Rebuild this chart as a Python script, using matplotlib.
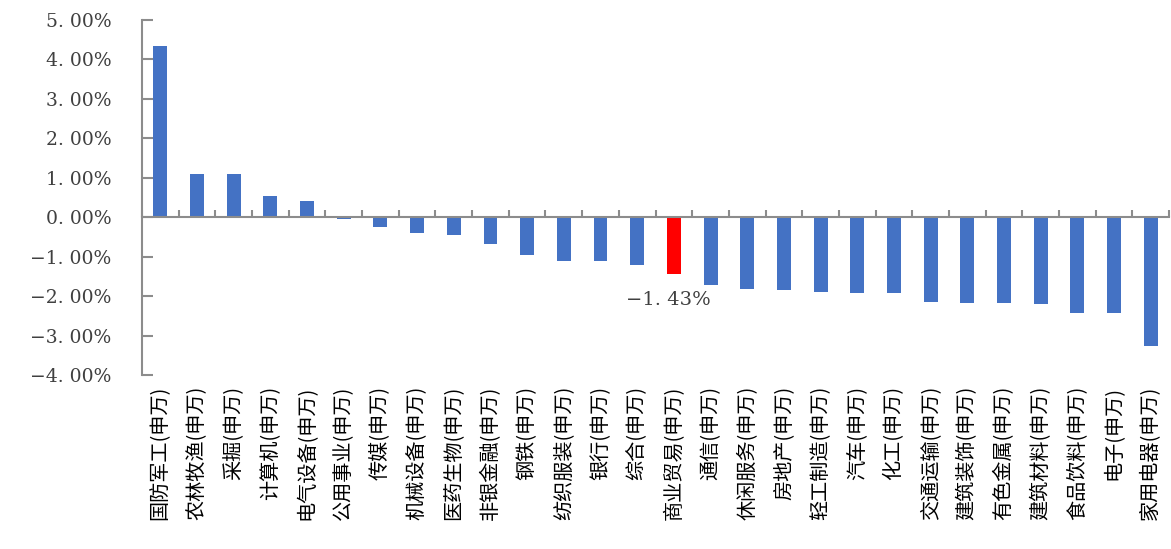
import matplotlib
matplotlib.use("Agg")
import matplotlib.pyplot as plt
import matplotlib.transforms as mtransforms

categories = ["国防军工", "农林牧渔", "采掘", "计算机", "电气设备", "公用事业", "传媒",
              "机械设备", "医药生物", "非银金融", "钢铁", "纺织服装", "银行", "综合",
              "商业贸易", "通信", "休闲服务", "房地产", "轻工制造", "汽车", "化工",
              "交通运输", "建筑装饰", "有色金属", "建筑材料", "食品饮料", "电子", "家用电器"]
suffix = "(申万)"
values = [4.35, 1.10, 1.10, 0.54, 0.42, -0.05, -0.26,
          -0.40, -0.45, -0.68, -0.96, -1.11, -1.11, -1.21,
          -1.43, -1.72, -1.81, -1.84, -1.90, -1.93, -1.93,
          -2.15, -2.18, -2.18, -2.21, -2.43, -2.43, -3.26]
highlight = "商业贸易"
yticks = [5, 4, 3, 2, 1, 0, -1, -2, -3, -4]

blue = "#4472C4"
red = "#FF0000"
gray = "#8C8C8C"
txt = "#404040"

fig = plt.figure(figsize=(11.71, 5.49), dpi=100)
ax = fig.add_axes([0.1213, 0.3169, 0.877, 0.6467])

x = list(range(len(categories)))
colors = [red if c == highlight else blue for c in categories]
ax.bar(x, values, width=0.38, color=colors, zorder=2)

ax.set_xlim(-0.5, len(categories) - 0.5)
ax.set_ylim(-4, 5)

for s in ["top", "right"]:
    ax.spines[s].set_visible(False)
ax.spines["bottom"].set_position(("data", 0))
ax.spines["bottom"].set_color(gray)
ax.spines["left"].set_color(gray)
ax.spines["bottom"].set_linewidth(1.5)
ax.spines["left"].set_linewidth(1.5)

ax.set_xticks([i - 0.5 for i in range(len(categories) + 1)])
ax.set_xticklabels([])
ax.tick_params(axis="x", direction="in", length=5, width=1.5, color=gray)

ax.set_yticks(yticks)
ax.set_yticklabels([("−" if v < 0 else "") + f"{abs(v)}. 00%" for v in yticks],
                   family="DejaVu Serif", fontsize=13.5, color=txt)
ax.tick_params(axis="y", direction="in", length=8, width=1.5, color=gray, pad=22)

trans = mtransforms.blended_transform_factory(ax.transData, ax.transAxes)
for i, c in enumerate(categories):
    ax.text(i, -0.03, c + suffix, rotation=90, ha="center", va="top",
            transform=trans, fontsize=14.5, family=["Noto Sans CJK SC", "DejaVu Sans"],
            color="#000000")

idx = categories.index(highlight)
ax.annotate(f"−1. {abs(values[idx]) * 100 % 100:.0f}%", xy=(idx, values[idx]),
            xytext=(-5, -26), textcoords="offset pixels", ha="center", va="center",
            family="DejaVu Serif", fontsize=14, color=txt)

fig.savefig("out.png", dpi=100)
